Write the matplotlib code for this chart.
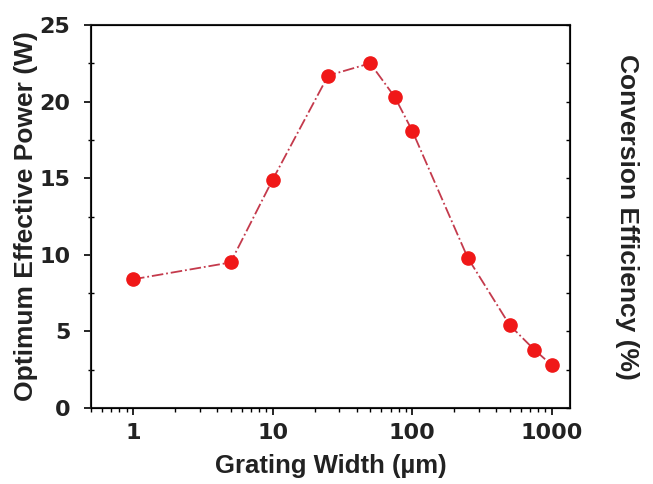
import matplotlib
matplotlib.use("Agg")
import matplotlib.pyplot as plt
from matplotlib.ticker import MultipleLocator, LogLocator, NullFormatter, FixedLocator, FixedFormatter

plt.rcParams['font.family'] = ['Liberation Sans', 'DejaVu Sans']
plt.rcParams['font.weight'] = 'bold'

width_um = [1, 5, 10, 25, 50, 75, 100, 250, 500, 750, 1000]
power_w = [8.4, 9.5, 14.9, 21.7, 22.5, 20.3, 18.1, 9.8, 5.4, 3.8, 2.8]
xtick_vals = [1, 10, 100, 1000]
xtick_labels = ['1', '10', '100', '1000']

fig = plt.figure(figsize=(6.53, 4.84), dpi=100)
ax = fig.add_axes([91/653, 1-408/484, (570-91)/653, (408-25)/484])

ax.plot(width_um, power_w, linestyle='-.', color='#c43a4c', lw=1.3,
        marker='o', markersize=9.5, markerfacecolor='#f01818', markeredgecolor='#f01818', zorder=3)

ax.set_xscale('log')
ax.set_xlim(0.5, 1350)
ax.set_ylim(0, 25)
ax.xaxis.set_major_locator(FixedLocator(xtick_vals))
ax.xaxis.set_major_formatter(FixedFormatter(xtick_labels))
ax.xaxis.set_minor_locator(LogLocator(base=10, subs=range(2, 10)))
ax.xaxis.set_minor_formatter(NullFormatter())
ax.yaxis.set_major_locator(MultipleLocator(5))
ax.yaxis.set_minor_locator(MultipleLocator(2.5))

for s in ax.spines.values():
    s.set_linewidth(1.5)
    s.set_color('#222222')

ax.tick_params(axis='x', which='major', direction='out', length=5, width=1.2, labelsize=16, pad=6)
ax.tick_params(axis='x', which='minor', direction='out', length=3, width=1)
ax.tick_params(axis='y', which='major', direction='out', length=5, width=1.2, labelsize=16, pad=10)
ax.tick_params(axis='y', which='minor', direction='inout', length=5, width=1)
for lbl in ax.get_xticklabels() + ax.get_yticklabels():
    lbl.set_family(['DejaVu Sans'])
    lbl.set_color('#222222')

ax2 = ax.twinx()
ax2.set_ylim(0, 25)
ax2.yaxis.set_major_locator(MultipleLocator(2.5))
ax2.tick_params(axis='y', which='major', direction='in', length=3, width=1, labelright=False)
ax2.set_ylabel('Conversion Efficiency (%)', fontsize=19, fontweight='bold', rotation=270,
               labelpad=50, color='#222222')

ax.set_xlabel('Grating Width (µm)', fontsize=18.5, fontweight='bold', labelpad=8, color='#222222')
ax.set_ylabel('Optimum Effective Power (W)', fontsize=19, fontweight='bold', labelpad=1, color='#222222')

fig.savefig('out.png', dpi=100)
